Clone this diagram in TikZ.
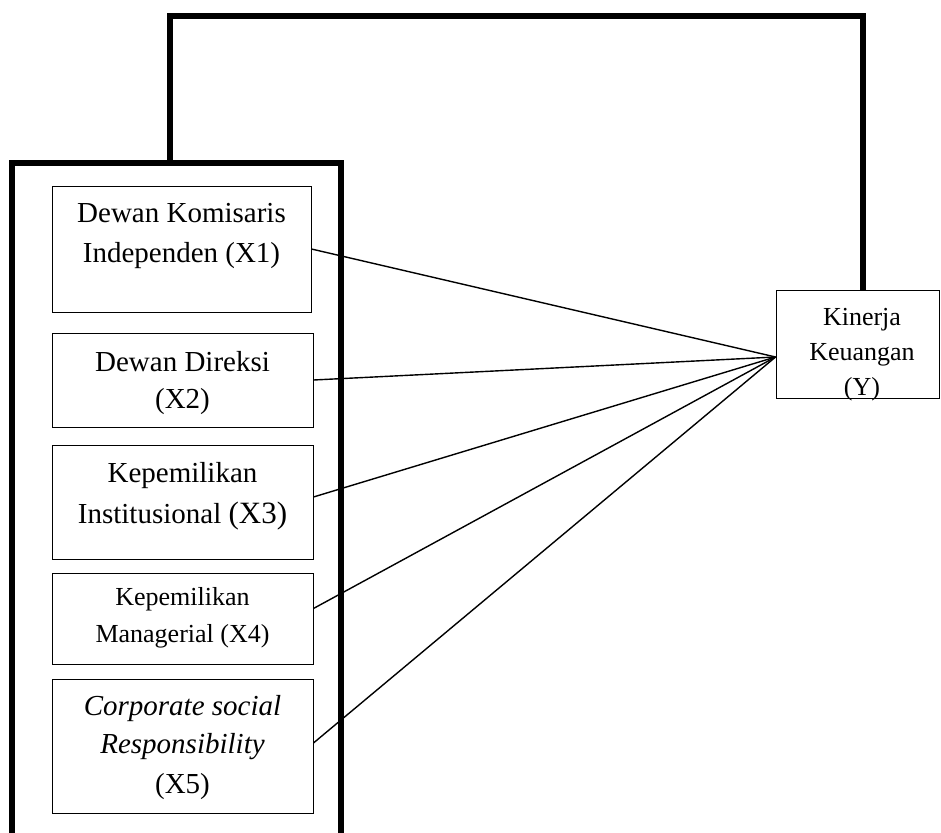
\documentclass[tikz,border=0pt]{standalone}
\usepackage{fontspec}
\setmainfont{Liberation Serif}
\begin{document}
\begin{tikzpicture}[x=1pt,y=1pt,
  varbox/.style={draw, line width=0.9pt, minimum width=261pt, inner sep=0pt},
  bigtxt/.style={align=center, anchor=base, inner sep=0pt, font=\fontsize{29}{40}\selectfont},
  smalltxt/.style={align=center, anchor=base, inner sep=0pt, font=\fontsize{26}{37}\selectfont},
  ytxt/.style={align=center, anchor=base, inner sep=0pt, font=\fontsize{26}{35}\selectfont},
  heavy/.style={line width=5.5pt, line join=miter},
  link/.style={line width=1.4pt}]
\useasboundingbox (0,0) rectangle (941,-832);
\begin{scope}
\clip (0,0) rectangle (941,-832);
% outer frame (open at bottom)
\draw[heavy] (12,-840) -- (12,-163) -- (341,-163) -- (341,-840);
\end{scope}
\coordinate (fbstart) at (170,-163);

% boxes
\node[varbox, minimum width=259pt, minimum height=126pt] (x1) at (181.5,-249) {};
\node[varbox, minimum height=94pt] (x2) at (182.5,-380) {};
\node[varbox, minimum height=114pt] (x3) at (182.5,-502) {};
\node[varbox, minimum height=91pt] (x4) at (182.5,-618.5) {};
\node[varbox, minimum height=134pt] (x5) at (182.5,-746) {};
\node[varbox, minimum width=163pt, minimum height=108pt] (y) at (857.5,-344) {};

% texts (anchor base = baseline of last line)
\node[bigtxt] (t1) at (181.5,-262) {Dewan Komisaris\\Independen (X1)};
\node[bigtxt] (t2) at (182.5,-408) {Dewan Direksi\\[-3pt](X2)};
\node[bigtxt] (t3) at (182.5,-523) {Kepemilikan\\[1pt]Institusional {\fontsize{31}{40}\selectfont(X3)}};
\node[smalltxt] (t4) at (182.5,-642) {Kepemilikan\\Managerial (X4)};
\node[bigtxt] (t5) at (182.5,-793) {\itshape Corporate social\\[-2pt]\itshape Responsibility\\(X5)};
\node[ytxt] (ty) at (862,-395) {Kinerja\\Keuangan\\(Y)};

% connectors
\coordinate (hub) at ([yshift=-13pt]y.west);
\draw[link] (x1.east) -- (hub);
\draw[link] (x2.east) -- (hub);
\draw[link] ([yshift=5pt]x3.east) -- (hub);
\draw[link] ([yshift=10pt]x4.east) -- (hub);
\draw[link] ([yshift=3pt]x5.east) -- (hub);

% feedback line
\draw[heavy] (fbstart) -- (170,-16) -| ([xshift=5.5pt]y.north);
\end{tikzpicture}
\end{document}
